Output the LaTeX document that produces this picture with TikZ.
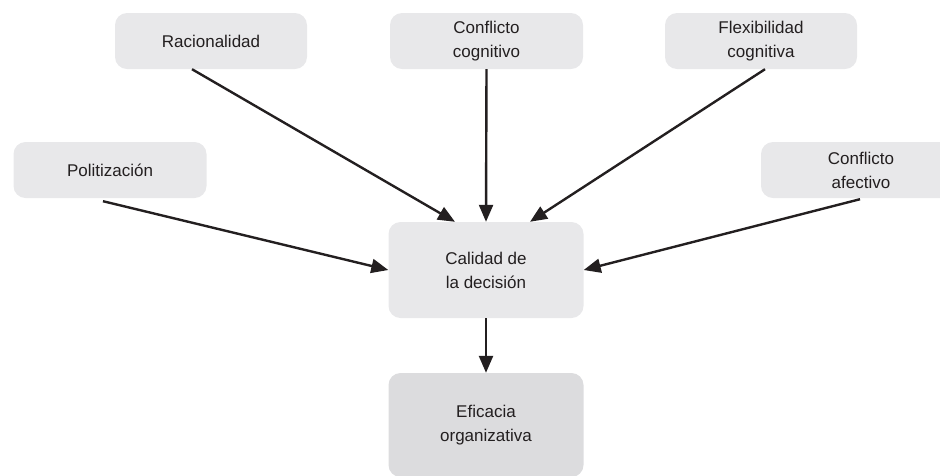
\documentclass[tikz,border=0pt]{standalone}
\usepackage{fontspec}
\setmainfont{Liberation Sans}
\usetikzlibrary{arrows.meta}
\definecolor{boxfill}{HTML}{E8E8EA}
\definecolor{boxdark}{HTML}{DCDCDE}
\definecolor{txt}{HTML}{231F20}
\tikzset{
  box/.style={fill=boxfill, draw=none, rounded corners=12pt, align=center,
    text=txt, font=\fontsize{17}{24}\selectfont, inner sep=0pt},
  twoline/.style={text depth=0pt, text height=26pt},
  arr/.style={line width=2.4pt, draw=txt, -{Triangle[length=17pt,width=14pt]}}
}
\begin{document}
\begin{tikzpicture}[x=1pt,y=-1pt]
\useasboundingbox (0,0) rectangle (940,475);
\clip (0,0) rectangle (940,475);
\node[box, minimum width=192pt, minimum height=56pt] (rac) at (211,41) {Racionalidad};
\node[box, minimum width=193pt, minimum height=56pt] (cc) at (486.5,41) {Conflicto\\cognitivo};
\node[box, minimum width=192pt, minimum height=56pt] (fc) at (761,41) {Flexibilidad\\cognitiva};
\node[box, minimum width=193pt, minimum height=56pt] (pol) at (110,170) {Politización};
\node[box, minimum width=200pt, minimum height=56pt] (ca) at (861,170) {Conflicto\\afectivo};
\node[box, minimum width=195pt, minimum height=96pt] (cal) at (486,270) {Calidad de\\la decisión};
\node[box, fill=boxdark, minimum width=195pt, minimum height=104pt] (ef) at (486,425) {Eficacia\\organizativa};
\draw[arr] ([xshift=-19pt]rac.south) -- ([xshift=-31pt]cal.north);
\draw[arr] (cc.south) -- (cal.north);
\draw[arr] ([xshift=4pt]fc.south) -- ([xshift=44pt]cal.north);
\draw[arr] ([xshift=-7pt,yshift=-3pt]pol.south) -- (cal.west);
\draw[arr] ([xshift=-1pt,yshift=-1pt]ca.south) -- (cal.east);
\draw[arr] (cal.south) -- (ef.north);
\end{tikzpicture}
\end{document}
